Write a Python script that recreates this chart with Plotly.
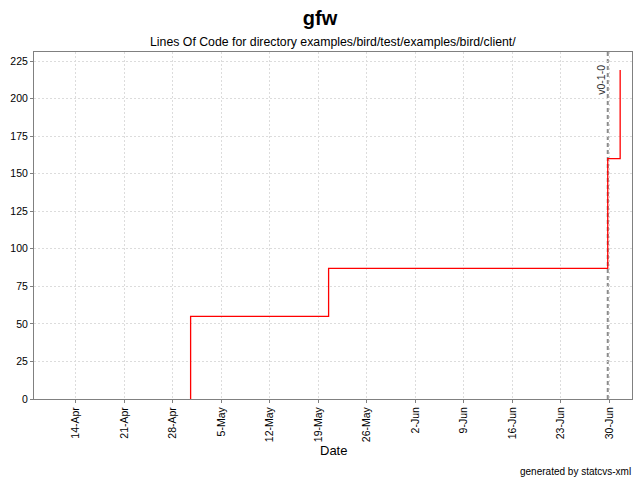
import plotly.graph_objects as go

# Data
dates = ["2004-04-30 14:00", "2004-04-30 14:00", "2004-05-20 12:00", "2004-06-29 19:00", "2004-07-01 14:00"]
loc = [0, 55, 87, 160, 219]
release_names = ["v0-1-0"]
release_dates = ["2004-06-29 19:00"]
y_ticks = [0, 25, 50, 75, 100, 125, 150, 175, 200, 225]

FONT = "Liberation Sans, Arial, sans-serif"

fig = go.Figure()
fig.add_trace(go.Scatter(x=dates, y=loc, mode="lines", line=dict(color="#ff0000", width=1.3, shape="hv"),
                         showlegend=False, hoverinfo="x+y"))

for name, d in zip(release_names, release_dates):
    fig.add_shape(type="line", xref="x", yref="paper", x0=d, x1=d, y0=0, y1=1,
                  line=dict(color="#8c8c8c", width=2, dash="4px,3px"), layer="below")
    fig.add_annotation(x=d, xref="x", y=1, yref="paper", text=name, textangle=-90,
                       showarrow=False, xanchor="right", yanchor="top", xshift=1, yshift=-11,
                       font=dict(family=FONT, size=10.5, color="#333333"))

fig.update_layout(
    width=640, height=480,
    margin=dict(l=34, r=8, t=52, b=81, autoexpand=False),
    paper_bgcolor="white", plot_bgcolor="white",
    font=dict(family=FONT, size=10.5, color="black"),
    title=dict(text="<b>gfw</b>", x=0.5, xanchor="center", y=1 - 18 / 480, yanchor="middle",
               font=dict(family=FONT, size=20, color="black")),
    xaxis=dict(range=["2004-04-07 23:30", "2004-07-03 07:00"], type="date", automargin=False,
               tick0="2004-04-14", dtick=7 * 24 * 3600 * 1000, tickformat="%-d-%b", tickangle=-90,
               showgrid=True, gridcolor="#dcdcdc", griddash="2px,2px", gridwidth=1,
               showline=True, linecolor="#808080", linewidth=1, mirror=True,
               ticks="outside", ticklen=3, tickcolor="#808080", zeroline=False,
               tickfont=dict(family=FONT, size=10.5, color="black")),
    yaxis=dict(range=[0, 231], tickvals=y_ticks, automargin=False,
               showgrid=True, gridcolor="#dcdcdc", griddash="2px,2px", gridwidth=1,
               showline=True, linecolor="#808080", linewidth=1, mirror=True,
               ticks="outside", ticklen=3, tickcolor="#808080", zeroline=False,
               tickfont=dict(family=FONT, size=10.5, color="black")),
    annotations=list(fig.layout.annotations) + [
        dict(text="Lines Of Code for directory examples/bird/test/examples/bird/client/", xref="paper", yref="paper",
             x=0.5, y=1, yshift=10, xanchor="center", yanchor="middle", showarrow=False,
             font=dict(family=FONT, size=12.3, color="black")),
        dict(text="Date", xref="paper", yref="paper", x=0.5, y=0, yshift=-51, xanchor="center", yanchor="middle",
             showarrow=False, font=dict(family=FONT, size=13, color="black")),
        dict(text="generated by statcvs-xml", xref="paper", yref="paper", x=1, y=0, xshift=1, yshift=-72,
             xanchor="right", yanchor="middle", showarrow=False, font=dict(family=FONT, size=10, color="black")),
    ],
)

fig.write_html("out.html", config={"displayModeBar": False},
               post_script="document.body.style.margin='0';document.body.style.padding='0';")
